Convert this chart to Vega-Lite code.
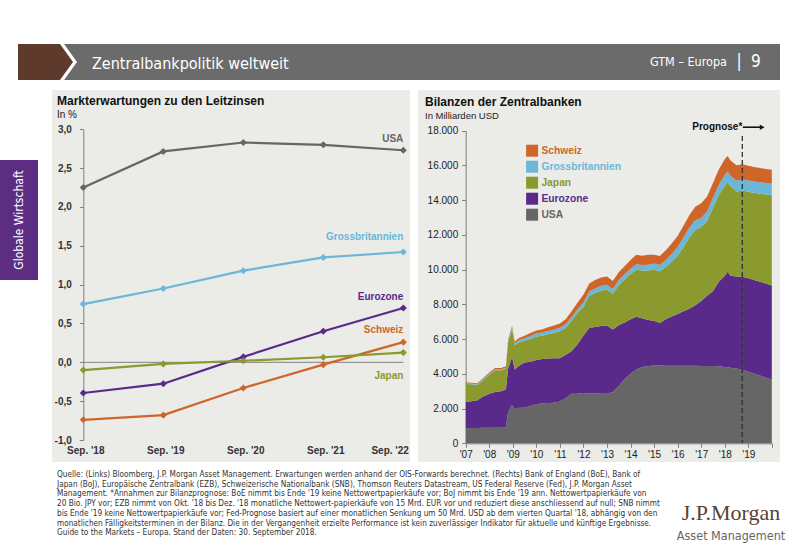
{
  "$schema": "https://vega.github.io/schema/vega-lite/v6.json",
  "background": "white",
  "padding": {"left": 0, "top": 44, "right": 0, "bottom": 0},
  "config": {
    "font": "Liberation Sans",
    "view": {"stroke": null},
    "locale": {"number": {"decimal": ",", "thousands": ".", "grouping": [3], "currency": ["", " €"], "minus": "-"}}
  },
  "datasets": {
    "rates": [
      {"t": "Sep. '18", "s": "USA", "v": 2.25},
      {"t": "Sep. '19", "s": "USA", "v": 2.715},
      {"t": "Sep. '20", "s": "USA", "v": 2.83},
      {"t": "Sep. '21", "s": "USA", "v": 2.8},
      {"t": "Sep. '22", "s": "USA", "v": 2.73},
      {"t": "Sep. '18", "s": "Grossbritannien", "v": 0.75},
      {"t": "Sep. '19", "s": "Grossbritannien", "v": 0.95},
      {"t": "Sep. '20", "s": "Grossbritannien", "v": 1.18},
      {"t": "Sep. '21", "s": "Grossbritannien", "v": 1.35},
      {"t": "Sep. '22", "s": "Grossbritannien", "v": 1.42},
      {"t": "Sep. '18", "s": "Eurozone", "v": -0.395},
      {"t": "Sep. '19", "s": "Eurozone", "v": -0.275},
      {"t": "Sep. '20", "s": "Eurozone", "v": 0.07},
      {"t": "Sep. '21", "s": "Eurozone", "v": 0.4},
      {"t": "Sep. '22", "s": "Eurozone", "v": 0.7},
      {"t": "Sep. '18", "s": "Schweiz", "v": -0.74},
      {"t": "Sep. '19", "s": "Schweiz", "v": -0.68},
      {"t": "Sep. '20", "s": "Schweiz", "v": -0.33},
      {"t": "Sep. '21", "s": "Schweiz", "v": -0.03},
      {"t": "Sep. '22", "s": "Schweiz", "v": 0.26},
      {"t": "Sep. '18", "s": "Japan", "v": -0.1},
      {"t": "Sep. '19", "s": "Japan", "v": -0.02},
      {"t": "Sep. '20", "s": "Japan", "v": 0.02},
      {"t": "Sep. '21", "s": "Japan", "v": 0.065},
      {"t": "Sep. '22", "s": "Japan", "v": 0.125}
    ],
    "ratelabels": [
      {"t": "Sep. '22", "s": "USA", "v": 2.88},
      {"t": "Sep. '22", "s": "Grossbritannien", "v": 1.616},
      {"t": "Sep. '22", "s": "Eurozone", "v": 0.845},
      {"t": "Sep. '22", "s": "Schweiz", "v": 0.41},
      {"t": "Sep. '22", "s": "Japan", "v": -0.18}
    ],
    "ord": [
      {"s": "USA", "k": 1},
      {"s": "Eurozone", "k": 2},
      {"s": "Japan", "k": 3},
      {"s": "Grossbritannien", "k": 4},
      {"s": "Schweiz", "k": 5}
    ],
    "legendrows": [
      {"s": "Schweiz"},
      {"s": "Grossbritannien"},
      {"s": "Japan"},
      {"s": "Eurozone"},
      {"s": "USA"}
    ],
    "bal": [
      {"d": "2007/01/01", "USA": 870, "Eurozone": 1510, "Japan": 1040, "Grossbritannien": 40, "Schweiz": 50},
      {"d": "2007/04/01", "USA": 880, "Eurozone": 1540, "Japan": 980, "Grossbritannien": 40, "Schweiz": 50},
      {"d": "2007/07/01", "USA": 880, "Eurozone": 1600, "Japan": 880, "Grossbritannien": 45, "Schweiz": 55},
      {"d": "2007/10/01", "USA": 890, "Eurozone": 1810, "Japan": 950, "Grossbritannien": 50, "Schweiz": 60},
      {"d": "2008/01/01", "USA": 900, "Eurozone": 1950, "Japan": 1100, "Grossbritannien": 55, "Schweiz": 75},
      {"d": "2008/04/01", "USA": 900, "Eurozone": 2050, "Japan": 1250, "Grossbritannien": 55, "Schweiz": 75},
      {"d": "2008/07/01", "USA": 900, "Eurozone": 2100, "Japan": 1200, "Grossbritannien": 55, "Schweiz": 75},
      {"d": "2008/09/15", "USA": 910, "Eurozone": 2190, "Japan": 1200, "Grossbritannien": 60, "Schweiz": 80},
      {"d": "2008/10/20", "USA": 1800, "Eurozone": 2500, "Japan": 1500, "Grossbritannien": 80, "Schweiz": 100},
      {"d": "2008/12/20", "USA": 2200, "Eurozone": 2750, "Japan": 1600, "Grossbritannien": 90, "Schweiz": 110},
      {"d": "2009/02/01", "USA": 1950, "Eurozone": 2300, "Japan": 1400, "Grossbritannien": 100, "Schweiz": 110},
      {"d": "2009/04/01", "USA": 2050, "Eurozone": 2400, "Japan": 1350, "Grossbritannien": 120, "Schweiz": 130},
      {"d": "2009/07/01", "USA": 2050, "Eurozone": 2600, "Japan": 1250, "Grossbritannien": 150, "Schweiz": 150},
      {"d": "2009/10/01", "USA": 2150, "Eurozone": 2550, "Japan": 1300, "Grossbritannien": 170, "Schweiz": 180},
      {"d": "2010/01/01", "USA": 2250, "Eurozone": 2550, "Japan": 1350, "Grossbritannien": 180, "Schweiz": 170},
      {"d": "2010/04/01", "USA": 2300, "Eurozone": 2550, "Japan": 1350, "Grossbritannien": 180, "Schweiz": 170},
      {"d": "2010/07/01", "USA": 2320, "Eurozone": 2560, "Japan": 1400, "Grossbritannien": 190, "Schweiz": 210},
      {"d": "2010/10/01", "USA": 2330, "Eurozone": 2570, "Japan": 1450, "Grossbritannien": 190, "Schweiz": 240},
      {"d": "2011/01/01", "USA": 2400, "Eurozone": 2500, "Japan": 1550, "Grossbritannien": 200, "Schweiz": 250},
      {"d": "2011/04/01", "USA": 2600, "Eurozone": 2500, "Japan": 1550, "Grossbritannien": 200, "Schweiz": 300},
      {"d": "2011/07/01", "USA": 2850, "Eurozone": 2450, "Japan": 1750, "Grossbritannien": 210, "Schweiz": 340},
      {"d": "2011/10/01", "USA": 2850, "Eurozone": 2850, "Japan": 1800, "Grossbritannien": 220, "Schweiz": 380},
      {"d": "2012/01/01", "USA": 2900, "Eurozone": 3300, "Japan": 1650, "Grossbritannien": 250, "Schweiz": 450},
      {"d": "2012/04/01", "USA": 2880, "Eurozone": 3770, "Japan": 1850, "Grossbritannien": 260, "Schweiz": 440},
      {"d": "2012/07/01", "USA": 2880, "Eurozone": 3820, "Japan": 1950, "Grossbritannien": 270, "Schweiz": 480},
      {"d": "2012/10/01", "USA": 2850, "Eurozone": 3900, "Japan": 2050, "Grossbritannien": 270, "Schweiz": 480},
      {"d": "2013/01/01", "USA": 2850, "Eurozone": 3930, "Japan": 2070, "Grossbritannien": 280, "Schweiz": 470},
      {"d": "2013/04/01", "USA": 2950, "Eurozone": 3610, "Japan": 2040, "Grossbritannien": 280, "Schweiz": 470},
      {"d": "2013/07/01", "USA": 3300, "Eurozone": 3500, "Japan": 2300, "Grossbritannien": 290, "Schweiz": 460},
      {"d": "2013/10/01", "USA": 3700, "Eurozone": 3250, "Japan": 2500, "Grossbritannien": 290, "Schweiz": 460},
      {"d": "2014/01/01", "USA": 4000, "Eurozone": 3150, "Japan": 2600, "Grossbritannien": 300, "Schweiz": 500},
      {"d": "2014/04/01", "USA": 4250, "Eurozone": 3040, "Japan": 2710, "Grossbritannien": 310, "Schweiz": 540},
      {"d": "2014/07/01", "USA": 4400, "Eurozone": 2800, "Japan": 2750, "Grossbritannien": 320, "Schweiz": 530},
      {"d": "2014/10/01", "USA": 4450, "Eurozone": 2650, "Japan": 2850, "Grossbritannien": 330, "Schweiz": 570},
      {"d": "2015/01/01", "USA": 4480, "Eurozone": 2570, "Japan": 2950, "Grossbritannien": 360, "Schweiz": 500},
      {"d": "2015/04/01", "USA": 4480, "Eurozone": 2440, "Japan": 2980, "Grossbritannien": 370, "Schweiz": 520},
      {"d": "2015/07/01", "USA": 4470, "Eurozone": 2680, "Japan": 3000, "Grossbritannien": 400, "Schweiz": 560},
      {"d": "2015/10/01", "USA": 4470, "Eurozone": 2830, "Japan": 3150, "Grossbritannien": 450, "Schweiz": 600},
      {"d": "2016/01/01", "USA": 4470, "Eurozone": 2980, "Japan": 3350, "Grossbritannien": 500, "Schweiz": 640},
      {"d": "2016/04/01", "USA": 4470, "Eurozone": 3130, "Japan": 3700, "Grossbritannien": 550, "Schweiz": 680},
      {"d": "2016/07/01", "USA": 4470, "Eurozone": 3280, "Japan": 4100, "Grossbritannien": 560, "Schweiz": 720},
      {"d": "2016/10/01", "USA": 4460, "Eurozone": 3490, "Japan": 4350, "Grossbritannien": 540, "Schweiz": 780},
      {"d": "2017/01/01", "USA": 4450, "Eurozone": 3750, "Japan": 4250, "Grossbritannien": 520, "Schweiz": 850},
      {"d": "2017/04/01", "USA": 4450, "Eurozone": 4050, "Japan": 4300, "Grossbritannien": 540, "Schweiz": 860},
      {"d": "2017/07/01", "USA": 4450, "Eurozone": 4300, "Japan": 4800, "Grossbritannien": 560, "Schweiz": 870},
      {"d": "2017/10/01", "USA": 4430, "Eurozone": 4870, "Japan": 5000, "Grossbritannien": 580, "Schweiz": 880},
      {"d": "2018/01/01", "USA": 4400, "Eurozone": 5250, "Japan": 5200, "Grossbritannien": 600, "Schweiz": 900},
      {"d": "2018/02/15", "USA": 4380, "Eurozone": 5500, "Japan": 5170, "Grossbritannien": 600, "Schweiz": 900},
      {"d": "2018/04/01", "USA": 4350, "Eurozone": 5300, "Japan": 5150, "Grossbritannien": 610, "Schweiz": 880},
      {"d": "2018/07/01", "USA": 4300, "Eurozone": 5300, "Japan": 4900, "Grossbritannien": 630, "Schweiz": 880},
      {"d": "2018/10/01", "USA": 4230, "Eurozone": 5360, "Japan": 4960, "Grossbritannien": 645, "Schweiz": 880},
      {"d": "2019/01/01", "USA": 4120, "Eurozone": 5380, "Japan": 4980, "Grossbritannien": 655, "Schweiz": 850},
      {"d": "2019/04/01", "USA": 4000, "Eurozone": 5400, "Japan": 5020, "Grossbritannien": 660, "Schweiz": 830},
      {"d": "2019/07/01", "USA": 3900, "Eurozone": 5400, "Japan": 5070, "Grossbritannien": 665, "Schweiz": 815},
      {"d": "2019/10/01", "USA": 3780, "Eurozone": 5420, "Japan": 5120, "Grossbritannien": 670, "Schweiz": 810},
      {"d": "2020/01/01", "USA": 3680, "Eurozone": 5400, "Japan": 5200, "Grossbritannien": 670, "Schweiz": 800}
    ]
  },
  "spacing": 10,
  "vconcat": [
    {
      "spacing": 0,
      "bounds": "flush",
      "hconcat": [
        {"width": 18, "height": 36, "data": {"values": []}, "mark": "point", "encoding": {}},
        {
          "width": 666, "height": 36,
          "view": {"fill": "#6b6b6b", "stroke": null},
          "title": {"text": "Zentralbankpolitik weltweit", "anchor": "start", "frame": "group", "offset": -28, "dx": 74, "color": "white", "fontSize": 16, "font": "DejaVu Sans Condensed", "fontWeight": "normal"},
          "data": {"values": [{}]},
          "layer": [
            {"mark": {"type": "point", "filled": true, "opacity": 1, "size": 1296, "color": "white", "shape": "M-18.5,-1L-15.944,-1L-15.222,0L-15.944,1L-18.5,1Z"}, "encoding": {}},
            {"mark": {"type": "point", "filled": true, "opacity": 1, "size": 1296, "color": "#5e3a2c", "shape": "M-18.5,-1L-16.167,-1L-15.444,0L-16.167,1L-18.5,1Z"}, "encoding": {}}
          ]
        },
        {
          "width": 96, "height": 36,
          "view": {"fill": "#6b6b6b", "stroke": null},
          "data": {"values": [{}]},
          "layer": [
            {"mark": {"type": "text", "text": "GTM – Europa", "align": "right", "dx": -5, "color": "white", "fontSize": 12.5, "font": "DejaVu Sans Condensed"}, "encoding": {}},
            {"mark": {"type": "text", "text": "|", "align": "center", "dx": 7, "color": "white", "fontSize": 17, "font": "DejaVu Sans Condensed"}, "encoding": {}},
            {"mark": {"type": "text", "text": "9", "align": "left", "dx": 19, "color": "white", "fontSize": 17, "font": "DejaVu Sans Condensed"}, "encoding": {}}
          ]
        }
      ]
    },
    {
      "spacing": 6,
      "vconcat": [
        {
          "spacing": 14,
          "hconcat": [
            {
              "spacing": 10,
              "vconcat": [
                {"width": 38, "height": 60, "data": {"values": []}, "mark": "point", "encoding": {}},
                {
                  "width": 38, "height": 120,
                  "view": {"fill": "#5c2d83", "stroke": null},
                  "data": {"values": [{}]},
                  "mark": {"type": "text", "text": "Globale Wirtschaft", "angle": 270, "color": "white", "fontSize": 12, "font": "DejaVu Sans Condensed"},
                  "encoding": {}
                }
              ]
            },
            {
              "spacing": 8,
              "bounds": "flush",
              "hconcat": [
                {
                  "width": 358, "height": 372,
                  "view": {"fill": "#ebebe8", "stroke": null},
                  "title": {"text": "Markterwartungen zu den Leitzinsen", "subtitle": "In %", "anchor": "start", "frame": "group", "offset": -31, "dx": 5, "fontSize": 12, "fontWeight": "bold", "color": "#111", "subtitleFontSize": 10, "subtitleColor": "#222", "subtitlePadding": 2},
                  "layer": [
                    {
                      "data": {"values": [{}]},
                      "mark": {"type": "rule", "color": "#808080", "strokeWidth": 1},
                      "encoding": {
                        "x": {"datum": "Sep. '18", "type": "ordinal", "scale": {"type": "point", "domain": ["Sep. '18", "Sep. '19", "Sep. '20", "Sep. '21", "Sep. '22"], "range": [31.3, 351.3], "padding": 0},
                              "axis": {"title": null, "orient": "bottom", "offset": -22, "domain": false, "ticks": false, "labelPadding": 5, "labelFontSize": 10, "labelFontWeight": "bold", "labelColor": "#333", "labelAngle": 0, "grid": false,
                                       "labelAlign": {"condition": {"test": "datum.value === \"Sep. '22\"", "value": "right"}, "value": "center"},
                                       "labelOffset": {"condition": {"test": "datum.value === \"Sep. '22\"", "value": 5}, "value": 2}}},
                        "x2": {"datum": "Sep. '22"},
                        "y": {"datum": 0, "type": "quantitative", "scale": {"domain": [-1, 3], "range": [350, 39.3], "nice": false, "zero": false},
                              "axis": {"title": null, "orient": "left", "offset": -31.3, "values": [-1, -0.5, 0, 0.5, 1, 1.5, 2, 2.5, 3], "format": ".1f", "grid": false, "domainColor": "#808080", "tickColor": "#808080", "tickSize": 4, "labelPadding": 8, "labelFontSize": 10, "labelFontWeight": "bold", "labelColor": "#333"}}
                      }
                    },
                    {
                      "data": {"name": "rates"},
                      "mark": {"type": "line", "strokeWidth": 2.2, "point": {"filled": true, "shape": "diamond", "size": 50}},
                      "encoding": {
                        "x": {"field": "t", "type": "ordinal", "title": null,
                              "axis": {"title": null, "orient": "bottom", "offset": -22, "domain": false, "ticks": false, "labelPadding": 5, "labelFontSize": 10, "labelFontWeight": "bold", "labelColor": "#333", "labelAngle": 0, "grid": false,
                                       "labelAlign": {"condition": {"test": "datum.value === \"Sep. '22\"", "value": "right"}, "value": "center"},
                                       "labelOffset": {"condition": {"test": "datum.value === \"Sep. '22\"", "value": 5}, "value": 2}}},
                        "y": {"field": "v", "type": "quantitative", "title": null},
                        "color": {"field": "s", "type": "nominal", "scale": {"domain": ["USA", "Grossbritannien", "Eurozone", "Schweiz", "Japan"], "range": ["#666666", "#6ab7d9", "#5a2a8a", "#d0652a", "#8b9a2e"]}, "legend": null}
                      }
                    },
                    {
                      "data": {"name": "ratelabels"},
                      "mark": {"type": "text", "align": "right", "baseline": "middle", "fontWeight": "bold", "fontSize": 10},
                      "encoding": {
                        "x": {"field": "t", "type": "ordinal", "title": null},
                        "y": {"field": "v", "type": "quantitative", "title": null},
                        "text": {"field": "s"},
                        "color": {"field": "s", "type": "nominal", "legend": null}
                      }
                    }
                  ]
                },
                {
                  "width": 362, "height": 372,
                  "view": {"fill": "#ebebe8", "stroke": null},
                  "title": {"text": "Bilanzen der Zentralbanken", "subtitle": "In Milliarden USD", "anchor": "start", "frame": "group", "offset": -31, "dx": 7, "fontSize": 12, "fontWeight": "bold", "color": "#111", "subtitleFontSize": 9.5, "subtitleColor": "#222", "subtitlePadding": 2},
                  "resolve": {"scale": {"y": "independent"}},
                  "layer": [
                    {
                      "layer": [
                        {
                          "data": {"name": "bal"},
                          "transform": [
                            {"fold": ["USA", "Eurozone", "Japan", "Grossbritannien", "Schweiz"], "as": ["s", "v"]},
                            {"lookup": "s", "from": {"data": {"name": "ord"}, "key": "s", "fields": ["k"]}}
                          ],
                          "mark": {"type": "area", "opacity": 1},
                          "encoding": {
                            "x": {"field": "d", "type": "temporal", "title": null,
                                  "scale": {"domain": [{"year": 2007, "month": 1, "date": 1}, {"year": 2020, "month": 1, "date": 1}], "range": [47.7, 353.8], "nice": false},
                                  "axis": {"title": null, "orient": "bottom", "offset": -18.7, "tickCount": {"interval": "year", "step": 1},
                                           "labelExpr": "year(datum.value) < 2020 ? timeFormat(datum.value, \"'%y\") : ''", "grid": false, "domainColor": "#808080", "tickColor": "#808080", "tickSize": 4, "labelPadding": 2, "labelFontSize": 10, "labelColor": "#222", "labelFlush": false, "labelOverlap": false, "labelBound": false}},
                            "y": {"field": "v", "type": "quantitative", "stack": "zero", "title": null,
                                  "scale": {"domain": [0, 18000], "range": [353.3, 40.7], "nice": false},
                                  "axis": {"title": null, "orient": "left", "offset": -47.7, "values": [0, 2000, 4000, 6000, 8000, 10000, 12000, 14000, 16000, 18000], "format": ",.0f", "grid": false, "domainColor": "#808080", "tickColor": "#808080", "tickSize": 4, "labelPadding": 4, "labelFontSize": 10, "labelColor": "#222"}},
                            "color": {"field": "s", "type": "nominal", "title": null,
                                      "scale": {"domain": ["Schweiz", "Grossbritannien", "Japan", "Eurozone", "USA"], "range": ["#cf642a", "#6ab6d6", "#8a8c2c", "#5b2584", "#6a6a6a"]},
                                      "legend": null},
                            "order": {"field": "k", "type": "quantitative"}
                          }
                        },
                        {
                          "data": {"values": [{}]},
                          "mark": {"type": "rule", "strokeDash": [5, 3], "color": "#333", "strokeWidth": 1.3},
                          "encoding": {
                            "x": {"datum": {"year": 2018, "month": 9, "date": 30}, "type": "temporal"},
                            "y": {"datum": 17700, "type": "quantitative"},
                            "y2": {"datum": 0}
                          }
                        },
                        {
                          "data": {"values": [{}]},
                          "mark": {"type": "text", "text": "Prognose*", "align": "right", "baseline": "middle", "fontWeight": "bold", "fontSize": 10, "color": "#111"},
                          "encoding": {
                            "x": {"datum": {"year": 2018, "month": 9, "date": 30}, "type": "temporal"},
                            "y": {"datum": 18200, "type": "quantitative"}
                          }
                        },
                        {
                          "data": {"values": [{}]},
                          "mark": {"type": "rule", "color": "#111", "strokeWidth": 1.6},
                          "encoding": {
                            "x": {"datum": {"year": 2018, "month": 10, "date": 8}, "type": "temporal"},
                            "x2": {"datum": {"year": 2019, "month": 7, "date": 15}},
                            "y": {"datum": 18200, "type": "quantitative"}
                          }
                        },
                        {
                          "data": {"values": [{}]},
                          "mark": {"type": "point", "shape": "triangle-right", "filled": true, "opacity": 1, "size": 30, "color": "#111"},
                          "encoding": {
                            "x": {"datum": {"year": 2019, "month": 8, "date": 5}, "type": "temporal"},
                            "y": {"datum": 18200, "type": "quantitative"}
                          }
                        }
                      ]
                    },
                    {
                      "data": {"name": "legendrows"},
                      "encoding": {
                        "y": {"field": "s", "type": "nominal", "scale": {"type": "point", "domain": ["Schweiz", "Grossbritannien", "Japan", "Eurozone", "USA"], "range": [60.7, 124.7], "padding": 0}, "axis": null},
                        "color": {"field": "s", "type": "nominal", "legend": null}
                      },
                      "layer": [
                        {"mark": {"type": "point", "shape": "square", "filled": true, "opacity": 1, "size": 144},
                         "encoding": {"x": {"datum": {"year": 2009, "month": 10, "date": 27}, "type": "temporal"}}},
                        {"mark": {"type": "text", "align": "left", "baseline": "middle", "fontWeight": "bold", "fontSize": 10.3},
                         "encoding": {"x": {"datum": {"year": 2010, "month": 3, "date": 20}, "type": "temporal"}, "text": {"field": "s"}}}
                      ]
                    }
                  ]
                }
              ]
            }
          ]
        },
        {
          "spacing": 22,
          "bounds": "flush",
          "hconcat": [
            {
              "width": 660, "height": 1,
              "data": {"values": []}, "mark": "point", "encoding": {},
              "title": {
                "text": [
                  "Quelle: (Links) Bloomberg, J.P. Morgan Asset Management. Erwartungen werden anhand der OIS-Forwards berechnet. (Rechts) Bank of England (BoE), Bank of",
                  "Japan (BoJ), Europäische Zentralbank (EZB), Schweizerische Nationalbank (SNB), Thomson Reuters Datastream, US Federal Reserve (Fed), J.P. Morgan Asset",
                  "Management. *Annahmen zur Bilanzprognose: BoE nimmt bis Ende '19 keine Nettowertpapierkäufe vor; BoJ nimmt bis Ende '19 ann. Nettowertpapierkäufe von",
                  "20 Bio. JPY vor; EZB nimmt von Okt. '18 bis Dez. '18 monatliche Nettowert-papierkäufe von 15 Mrd. EUR vor und reduziert diese anschliessend auf null; SNB nimmt",
                  "bis Ende '19 keine Nettowertpapierkäufe vor; Fed-Prognose basiert auf einer monatlichen Senkung um 50 Mrd. USD ab dem vierten Quartal '18, abhängig von den",
                  "monatlichen Fälligkeitsterminen in der Bilanz. Die in der Vergangenheit erzielte Performance ist kein zuverlässiger Indikator für aktuelle und künftige Ergebnisse.",
                  "Guide to the Markets – Europa. Stand der Daten: 30. September 2018."
                ],
                "orient": "bottom", "anchor": "start", "frame": "group", "dx": 57, "offset": 2, "fontSize": 8.2, "font": "DejaVu Sans Condensed", "fontWeight": "normal", "color": "#333", "lineHeight": 9.7
              }
            },
            {
              "width": 98, "height": 33,
              "data": {"values": []}, "mark": "point", "encoding": {},
              "title": {"text": "J.P.Morgan", "subtitle": "Asset Management", "orient": "bottom", "anchor": "middle", "frame": "group", "offset": 2, "font": "Liberation Serif", "fontSize": 22, "fontWeight": "normal", "color": "#5b3f30", "subtitleFont": "DejaVu Sans Condensed", "subtitleFontSize": 12.5, "subtitleColor": "#666", "subtitlePadding": 5}
            }
          ]
        }
      ]
    }
  ]
}
